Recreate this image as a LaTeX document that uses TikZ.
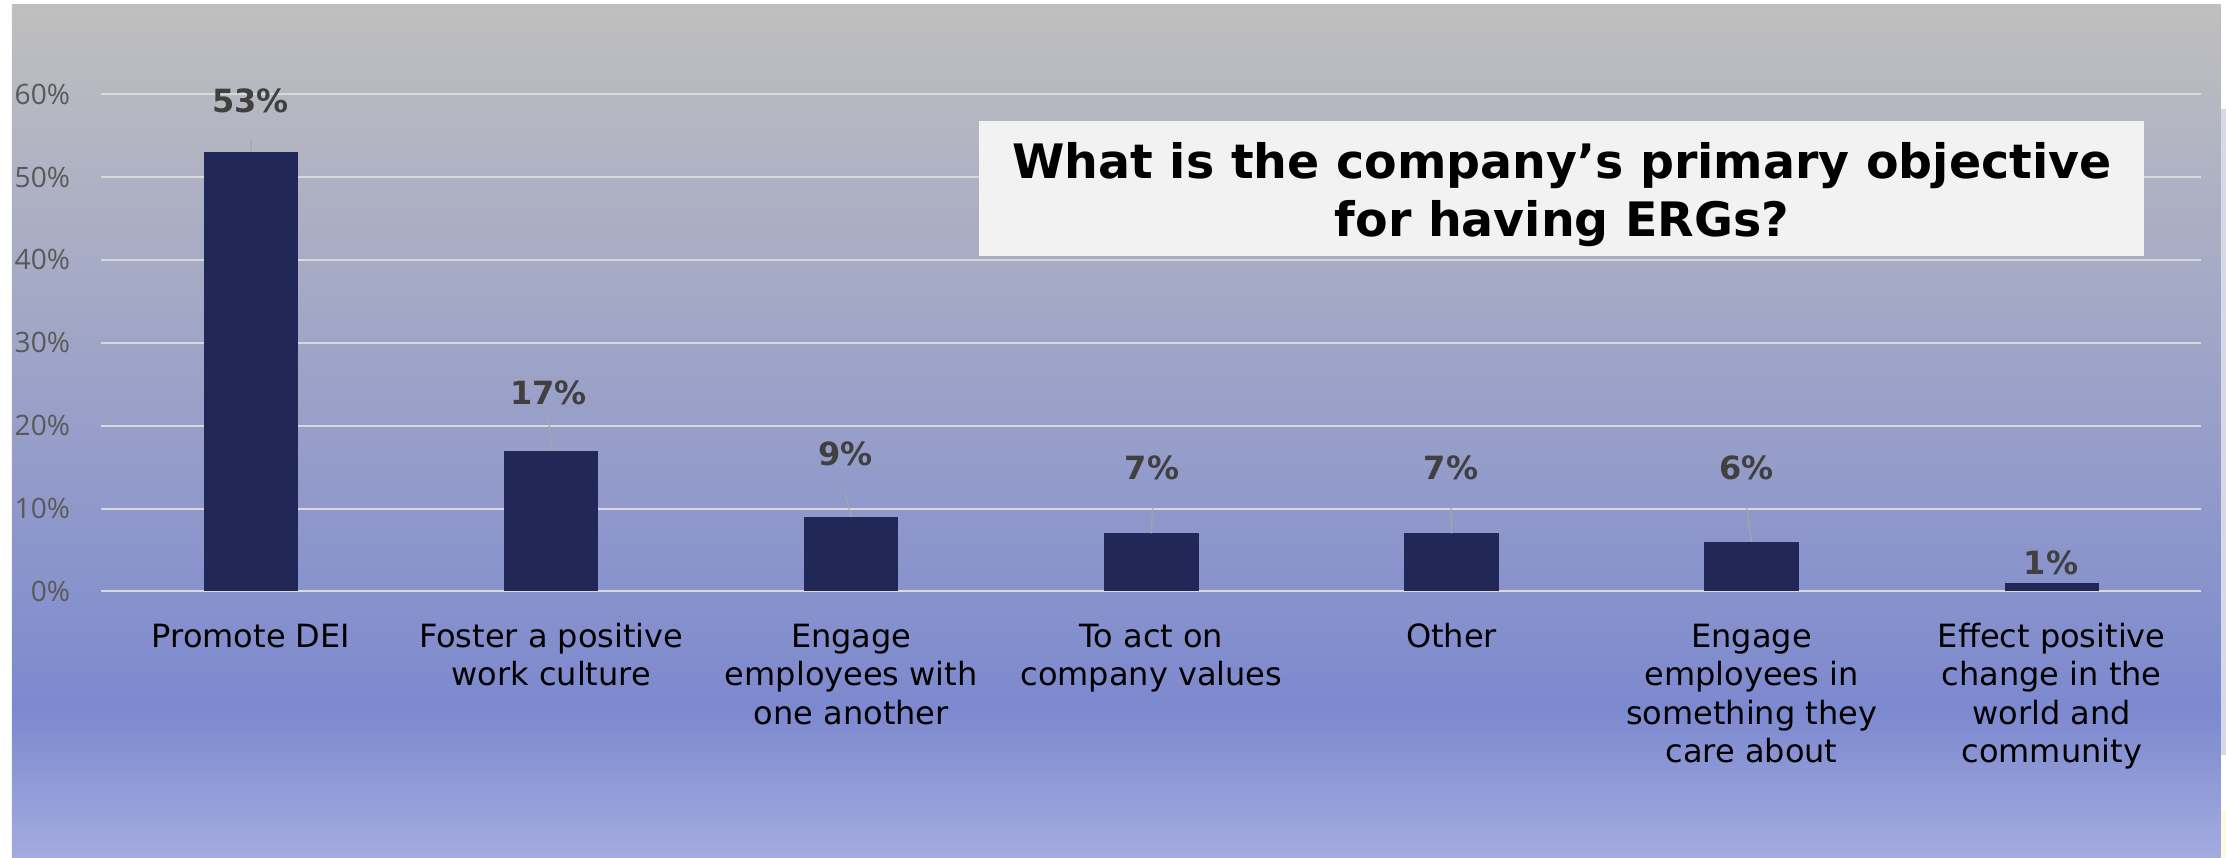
\documentclass[tikz,border=0pt]{standalone}
\usepackage{fontspec}
\setmainfont{DejaVu Sans}
\newfontfamily\yfont{Open Sans}
\definecolor{bgtop}{RGB}{191,191,191}
\definecolor{bgmid}{RGB}{125,137,207}
\definecolor{bgbot}{RGB}{163,171,223}
\definecolor{barcol}{RGB}{33,40,88}
\definecolor{gridcol}{RGB}{217,217,217}
\definecolor{ylabcol}{RGB}{89,89,89}
\definecolor{dlabcol}{RGB}{64,64,64}
\definecolor{leadcol}{RGB}{166,166,166}
\definecolor{titlebg}{RGB}{242,242,242}
\definecolor{sidea}{RGB}{214,217,232}
\definecolor{sideb}{RGB}{255,249,222}
\pgfdeclareverticalshading{chartbg}{100bp}{color(0bp)=(bgbot); color(25bp)=(bgbot); color(33.7bp)=(bgmid); color(75bp)=(bgtop); color(100bp)=(bgtop)}
\newcommand{\ct}{\rule{0pt}{0.8em}}
\begin{document}
\begin{tikzpicture}[x=0.01cm,y=-0.01cm,
  gridline/.style={draw=gridcol,line width=0.02cm},
  ylab/.style={anchor=east,inner sep=0pt,text=ylabcol,font=\yfont\fontsize{8}{9.6}\selectfont},
  barbox/.style={fill=barcol,draw=none,anchor=south,minimum width=0.943cm,inner sep=0pt,outer sep=0pt},
  dlab/.style={anchor=base,inner sep=0pt,text=dlabcol,font=\bfseries\fontsize{9.1}{11}\selectfont},
  leader/.style={draw=leadcol,line width=0.012cm},
  catlab/.style={anchor=north,inner sep=0pt,align=center,text=black,font=\fontsize{9.1}{10.9}\selectfont},
  titlebox/.style={fill=titlebg,draw=none,inner sep=0pt,minimum width=11.65cm,minimum height=1.35cm},
  titletext/.style={anchor=north,inner sep=0pt,align=center,text=black,font=\bfseries\fontsize{13.5}{16.5}\selectfont}]
\useasboundingbox (0,0) rectangle (2226,858);
\fill[white] (0,0) rectangle (2226,858);
\shade[shading=chartbg] (11.8,4.4) rectangle (2220.7,858);
\fill[sidea] (2221,109) rectangle (2226,755);
\fill[sideb] (2221,810) rectangle (2226,858);
% gridlines
\foreach \k in {0,...,6}{
  \draw[gridline] (101,{591.5-82.9*\k}) -- (2200.7,{591.5-82.9*\k});
}
% y labels
\foreach \k/\t in {0/0,1/10,2/20,3/30,4/40,5/50,6/60}{
  \node[ylab] (y\k) at (70.7,{591.5-82.9*\k}) {\t\%};
}
% bars
\node[barbox,minimum height=4.394cm] (b1) at (251.1,591.5) {};
\node[barbox,minimum height=1.409cm] (b2) at (551.2,591.5) {};
\node[barbox,minimum height=0.746cm] (b3) at (851.3,591.5) {};
\node[barbox,minimum height=0.580cm] (b4) at (1151.4,591.5) {};
\node[barbox,minimum height=0.580cm] (b5) at (1451.5,591.5) {};
\node[barbox,minimum height=0.497cm] (b6) at (1751.6,591.5) {};
\node[barbox,minimum height=0.083cm] (b7) at (2051.7,591.5) {};
% title
\node[titlebox] (tbox) at (1561.5,188.5) {};
\node[titletext] (ttext) at (1562,141.9) {What is the company’s primary objective\\for having ERGs?};
% data labels
\node[dlab] (d1) at (250.6,113) {53\%};
\node[dlab] (d2) at (548.5,405) {17\%};
\node[dlab] (d3) at (845.6,466) {9\%};
\node[dlab] (d4) at (1152,479.3) {7\%};
\node[dlab] (d5) at (1451,479.3) {7\%};
\node[dlab] (d6) at (1746.4,479.3) {6\%};
\node[dlab] (d7) at (2051,574.6) {1\%};
% leader lines
\coordinate (l1) at (251,139);
\coordinate (l2) at (548.4,414.8);
\coordinate (l3) at (844.8,492.5);
\coordinate (l4) at (1152.5,506.7);
\coordinate (l5) at (1451.2,506.7);
\coordinate (l6) at (1746.4,506.7);
\draw[leader] (l1) -- (b1.north);
\draw[leader] (l2) -- (b2.north);
\draw[leader] (l3) -- (b3.north);
\draw[leader] (l4) -- (b4.north);
\draw[leader] (l5) -- (b5.north);
\draw[leader] (l6) -- (b6.north);
% category labels
\node[catlab] (c1) at (251.1,621.2) {\ct Promote DEI};
\node[catlab] (c2) at (551.2,621.2) {\ct Foster a positive\\work culture};
\node[catlab] (c3) at (851.3,621.2) {\ct Engage\\employees with\\one another};
\node[catlab] (c4) at (1151.4,621.2) {\ct To act on\\company values};
\node[catlab] (c5) at (1451.5,621.2) {\ct Other};
\node[catlab] (c6) at (1751.6,621.2) {\ct Engage\\employees in\\something they\\care about};
\node[catlab] (c7) at (2051.7,621.2) {\ct Effect positive\\change in the\\world and\\community};
\end{tikzpicture}
\end{document}
